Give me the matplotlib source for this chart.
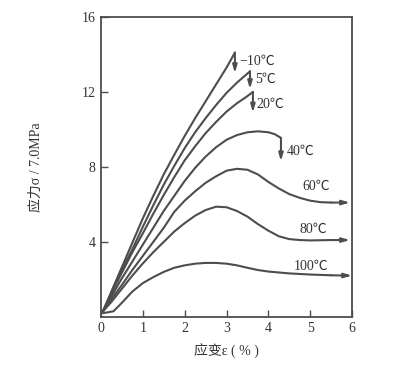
import matplotlib.pyplot as plt

plt.rcParams['font.family'] = ['Liberation Serif', 'Noto Sans CJK SC', 'DejaVu Sans']

# strain (%) and stress (units of 7.0 MPa) for each temperature
labels = ['−10℃', '5℃', '20℃', '40℃', '60℃', '80℃', '100℃']

eps_m10 = [0.05, 0.25, 0.5, 0.75, 1.0, 1.25, 1.5, 1.75, 2.0, 2.25, 2.5, 2.75, 3.0, 3.2]
sig_m10 = [0.3, 1.35, 2.65, 3.95, 5.25, 6.45, 7.6, 8.64, 9.65, 10.6, 11.5, 12.4, 13.3, 14.1]

eps_5 = [0.05, 0.25, 0.5, 0.75, 1.0, 1.25, 1.5, 1.75, 2.0, 2.25, 2.5, 2.75, 3.0, 3.25, 3.56]
sig_5 = [0.3, 1.3, 2.5, 3.6, 4.8, 5.95, 7.05, 8.05, 9.0, 9.85, 10.6, 11.3, 11.95, 12.5, 13.1]

eps_20 = [0.05, 0.25, 0.5, 0.75, 1.0, 1.25, 1.5, 1.75, 2.0, 2.25, 2.5, 2.75, 3.0, 3.25, 3.45, 3.63]
sig_20 = [0.3, 1.25, 2.35, 3.45, 4.45, 5.5, 6.5, 7.45, 8.35, 9.1, 9.8, 10.4, 10.95, 11.4, 11.7, 12.0]

eps_40 = [0.05, 0.25, 0.5, 0.75, 1.0, 1.25, 1.5, 1.75, 2.0, 2.25, 2.5, 2.75, 3.0, 3.25, 3.5,
          3.75, 4.0, 4.15, 4.3]
sig_40 = [0.3, 1.1, 2.05, 2.95, 3.85, 4.75, 5.65, 6.45, 7.25, 7.95, 8.55, 9.05, 9.45, 9.7, 9.85,
          9.9, 9.85, 9.75, 9.55]

eps_60 = [0.05, 0.25, 0.5, 0.75, 1.0, 1.25, 1.5, 1.75, 2.0, 2.25, 2.5, 2.75, 3.0, 3.25, 3.5,
          3.75, 4.0, 4.25, 4.5, 4.75, 5.0, 5.25, 5.5, 5.95]
sig_60 = [0.3, 0.95, 1.7, 2.5, 3.25, 4.0, 4.75, 5.6, 6.2, 6.7, 7.15, 7.5, 7.8, 7.9, 7.85,
          7.6, 7.2, 6.85, 6.55, 6.35, 6.2, 6.12, 6.1, 6.1]

eps_80 = [0.05, 0.25, 0.5, 0.75, 1.0, 1.25, 1.5, 1.75, 2.0, 2.25, 2.5, 2.75, 3.0, 3.25, 3.5,
          3.75, 4.0, 4.25, 4.5, 4.75, 5.0, 5.5, 5.95]
sig_80 = [0.3, 0.8, 1.5, 2.2, 2.85, 3.45, 4.0, 4.55, 5.0, 5.4, 5.7, 5.88, 5.85, 5.65, 5.35,
          4.95, 4.6, 4.3, 4.15, 4.1, 4.08, 4.1, 4.1]

eps_100 = [0.05, 0.3, 0.5, 0.75, 1.0, 1.25, 1.5, 1.75, 2.0, 2.25, 2.5, 2.75, 3.0, 3.25, 3.5,
           3.75, 4.0, 4.5, 5.0, 5.5, 6.0]
sig_100 = [0.2, 0.3, 0.75, 1.35, 1.8, 2.12, 2.4, 2.62, 2.75, 2.84, 2.88, 2.88, 2.84, 2.75, 2.62,
           2.5, 2.42, 2.32, 2.26, 2.22, 2.2]

# fracture drops (strain, from, to)
drops = [(3.2, 14.1, 13.0), (3.56, 13.1, 12.15), (3.63, 12.0, 10.9), (4.3, 9.55, 8.3)]

col = '#4d4d4d'
txt = '#333333'
arrow = dict(arrowstyle='-|>,head_length=0.45,head_width=0.13', color=col, lw=1.5,
             shrinkA=0, shrinkB=0)

fig = plt.figure(figsize=(4.02, 3.86), dpi=100)
ax = fig.add_axes([0.251, 0.179, 0.625, 0.777])

curves = [(eps_m10, sig_m10), (eps_5, sig_5), (eps_20, sig_20), (eps_40, sig_40),
          (eps_60, sig_60), (eps_80, sig_80), (eps_100, sig_100)]
for i, (e, s) in enumerate(curves):
    if i >= 4:
        ax.plot(e[:-1], s[:-1], color=col, lw=1.5, solid_capstyle='round')
        ax.annotate('', xy=(e[-1], s[-1]), xytext=(e[-2], s[-2]), arrowprops=arrow)
    else:
        ax.plot(e, s, color=col, lw=1.5, solid_capstyle='round', solid_joinstyle='round')

for x, y0, y1 in drops:
    ax.annotate('', xy=(x, y1), xytext=(x, y0), arrowprops=arrow)

# curve labels
pos = [(3.3, 13.65), (3.68, 12.65), (3.72, 11.35), (4.45, 8.85), (4.8, 6.95), (4.75, 4.65),
       (4.6, 2.7)]
for (x, y), lab in zip(pos, labels):
    ax.text(x, y, lab, fontsize=10, color=txt, va='center')

ax.set_xlim(0, 6)
ax.set_ylim(0, 16)
ax.set_xticks(range(7))
ax.set_yticks([4, 8, 12, 16])
ax.tick_params(direction='in', length=5, width=1.0, color=col, labelsize=10,
               labelcolor=txt, pad=4)
for sp in ax.spines.values():
    sp.set_color(col)
    sp.set_linewidth(1.3)

ax.set_xlabel('应变ε ( % )', fontsize=10, color=txt, labelpad=6)
ax.set_ylabel('应力σ / 7.0MPa', fontsize=10, color=txt, labelpad=28)

fig.savefig('out.png', dpi=100, facecolor='white')
